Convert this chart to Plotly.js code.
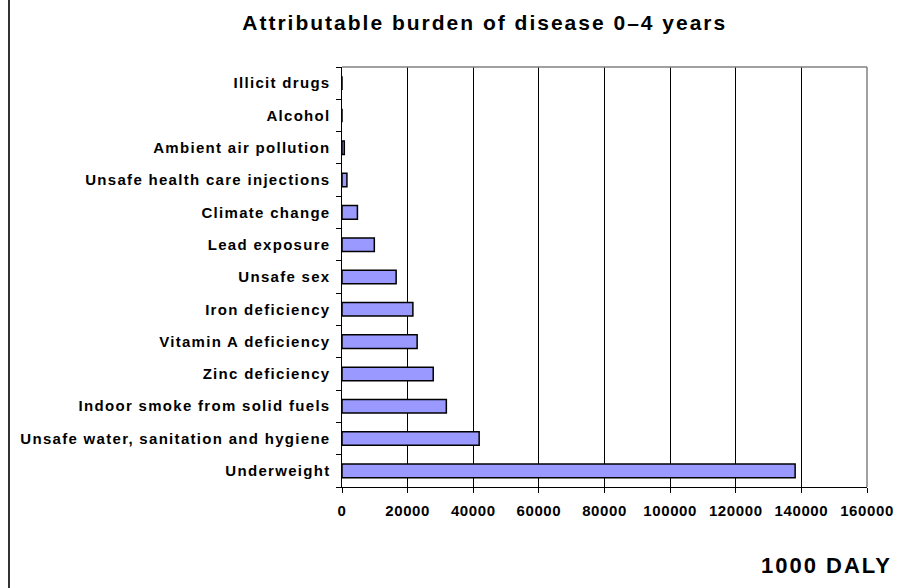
<!DOCTYPE html>
<html>
<head>
<meta charset="utf-8">
<script src="https://cdn.plot.ly/plotly-3.0.1.min.js"></script>
<style>
html,body{margin:0;padding:0;background:#fff;}
#chart{width:901px;height:588px;}
#chart .ytick text{letter-spacing:1.3px;}
#chart .xtick text{letter-spacing:0.6px;}
#chart .gtitle{letter-spacing:2px;}
#chart .annotation-text{letter-spacing:2px;}
</style>
</head>
<body>
<div id="chart"></div>
<script>
const categories = [
  "Underweight",
  "Unsafe water, sanitation and hygiene",
  "Indoor smoke from solid fuels",
  "Zinc deficiency",
  "Vitamin A deficiency",
  "Iron deficiency",
  "Unsafe sex",
  "Lead exposure",
  "Climate change",
  "Unsafe health care injections",
  "Ambient air pollution",
  "Alcohol",
  "Illicit drugs"
];
const daly = [138100, 41800, 31800, 27800, 22900, 21600, 16500, 9850, 4700, 1500, 700, 0, 0];
const xTicks = [0, 20000, 40000, 60000, 80000, 100000, 120000, 140000, 160000];

const font = "Liberation Sans, Arial, sans-serif";
const trace = {
  type: "bar",
  orientation: "h",
  y: categories,
  x: daly,
  marker: {color: "#9999ff", line: {color: "#000000", width: 1.5}},
  hoverinfo: "skip"
};
const layout = {
  width: 901, height: 588,
  margin: {l: 342, r: 34, t: 67, b: 101},
  paper_bgcolor: "#ffffff", plot_bgcolor: "#ffffff",
  showlegend: false,
  bargap: 0.58,
  font: {family: font, color: "#000000"},
  title: {text: "Attributable burden of disease 0\u20134 years", font: {family: font, size: 21, weight: "bold"}, x: 0.538, xanchor: "center", y: 0.962, yanchor: "middle"},
  xaxis: {
    range: [0, 160000], tickvals: xTicks, ticktext: xTicks.map(String),
    showgrid: true, gridcolor: "#000000", gridwidth: 1,
    showline: true, linecolor: "#000000", linewidth: 1,
    ticks: "outside", ticklen: 5, tickcolor: "#000000",
    ticklabelstandoff: 5,
    tickfont: {family: font, size: 15, weight: "bold"},
    zeroline: false, fixedrange: true
  },
  yaxis: {
    type: "category", categoryorder: "array", categoryarray: categories,
    showline: true, linecolor: "#000000", linewidth: 1.5,
    ticks: "outside", ticklen: 5, tickcolor: "#000000", tickson: "boundaries",
    ticklabelstandoff: 7,
    tickfont: {family: font, size: 15, weight: "bold"},
    showgrid: false, fixedrange: true
  },
  shapes: [
    {type: "line", xref: "paper", yref: "paper", x0: 0, x1: 1, y0: 1, y1: 1, line: {color: "#808080", width: 1.5}},
    {type: "line", xref: "paper", yref: "paper", x0: 1, x1: 1, y0: 0, y1: 1, line: {color: "#808080", width: 1.5}},
    {type: "line", xref: "paper", yref: "paper", x0: (9 - 342) / 525, x1: (9 - 342) / 525, y0: 67 / 420 + 1, y1: -101 / 420, line: {color: "#333333", width: 2}}
  ],
  annotations: [
    {text: "1000 DALY", xref: "paper", yref: "paper", x: (885 - 342) / 525, y: (487 - 565) / 420, xanchor: "right", yanchor: "middle", showarrow: false, font: {family: font, size: 22, weight: "bold"}}
  ]
};
Plotly.newPlot("chart", [trace], layout, {displayModeBar: false, staticPlot: true});
</script>
</body>
</html>
